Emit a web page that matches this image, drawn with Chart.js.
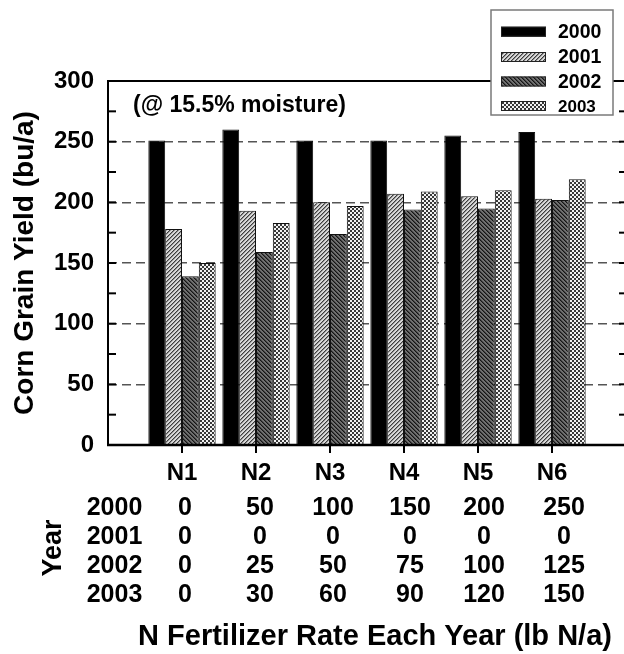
<!DOCTYPE html>
<html><head><meta charset="utf-8">
<script src="https://cdn.jsdelivr.net/npm/chart.js@4/dist/chart.umd.min.js"></script>
<style>html,body{margin:0;padding:0;overflow:hidden;background:#fff;width:624px;height:654px}
#wrap{width:628px;height:654px}</style></head>
<body><div id="wrap"><canvas id="c" width="628" height="654"></canvas></div>
<script>
const categories = ['N1','N2','N3','N4','N5','N6'];
const years = ['2000','2001','2002','2003'];
const yield2000 = [251,260,251,251,255,258];
const yield2001 = [178,193,200,207,205,203];
const yield2002 = [139,159,174,194,195,202];
const yield2003 = [150,183,197,209,210,219];
const rate2000 = [0,50,100,150,200,250];
const rate2001 = [0,0,0,0,0,0];
const rate2002 = [0,25,50,75,100,125];
const rate2003 = [0,30,60,90,120,150];
const yTicks = [0,50,100,150,200,250,300];
const yMinorTicks = [25,75,125,175,225,275];
const annotation = '(@ 15.5% moisture)';
const yTitle = 'Corn Grain Yield (bu/a)';
const xTitle = 'N Fertilizer Rate Each Year (lb N/a)';
const rowTitle = 'Year';

const FONT = "'Liberation Sans', Arial, Helvetica, sans-serif";
const canvas = document.getElementById('c');
const ctx = canvas.getContext('2d');

function makeTile(size, fn){
  const c = document.createElement('canvas'); c.width = c.height = size;
  const g = c.getContext('2d'); fn(g); return ctx.createPattern(c, 'repeat');
}
const fill2001 = makeTile(4, g => {
  g.fillStyle = '#d8d8d8'; g.fillRect(0,0,4,4);
  for (let i=0;i<4;i++){ g.fillStyle='#3c3c3c'; g.fillRect(i,3-i,1,1); g.fillStyle='#909090'; g.fillRect((i+1)%4,3-i,1,1); }
});
const fill2002 = makeTile(4, g => {
  g.fillStyle = '#707070'; g.fillRect(0,0,4,4);
  for (let i=0;i<4;i++){ g.fillStyle='#151515'; g.fillRect(i,i,1,1); g.fillStyle='#404040'; g.fillRect((i+1)%4,i,1,1); }
});
const fill2003 = makeTile(4, g => {
  g.fillStyle = '#f2f2f2'; g.fillRect(0,0,4,4);
  g.fillStyle = '#383838'; g.fillRect(0,0,2,2); g.fillRect(2,2,2,2);
});
const fills = ['#000000', fill2001, fill2002, fill2003];
const series = [yield2000, yield2001, yield2002, yield2003];
const rates = [rate2000, rate2001, rate2002, rate2003];

const datasets = years.map((yr,k) => ({
  label: yr,
  data: series[k].map((v,i) => ({x: i+1, y: v})),
  backgroundColor: fills[k],
  borderColor: '#111',
  borderWidth: 1,
  categoryPercentage: 0.91,
  barPercentage: 1.0
}));

function line(c,x1,y1,x2,y2){ c.beginPath(); c.moveTo(x1,y1); c.lineTo(x2,y2); c.stroke(); }

const deco = {
  id: 'deco',
  afterDatasetsDraw(chart){
    const {ctx: c, chartArea: a, scales: {y}} = chart;
    c.save();
    c.strokeStyle = '#000'; c.lineWidth = 2;
    [...yTicks, ...yMinorTicks].forEach(v => {
      const py = y.getPixelForValue(v);
      line(c, a.left, py, a.left+8, py);
      line(c, a.right, py, a.right-7, py);
    });
    c.strokeRect(a.left, a.top, a.right-a.left, a.bottom-a.top);
    c.lineWidth = 2.6; line(c, a.left-1, a.bottom, a.right+2, a.bottom);
    c.restore();
  },
  afterDraw(chart){
    const {ctx: c, chartArea: a, scales: {x}} = chart;
    c.save();
    // legend
    c.fillStyle = '#fff'; c.fillRect(491, 10, 122, 105);
    c.strokeStyle = '#7a7a7a'; c.lineWidth = 1.5; c.strokeRect(491, 10, 122, 105);
    const rowsY = [31.7, 57, 81.5, 106];
    const lFont = [19.5, 19.5, 19.5, 17];
    chart.data.datasets.forEach((ds,k) => {
      c.fillStyle = ds.backgroundColor; c.fillRect(501, rowsY[k]-5, 45, 10);
      c.strokeStyle = '#222'; c.lineWidth = 1; c.strokeRect(501.5, rowsY[k]-4.5, 44, 9);
      c.fillStyle = '#000'; c.font = 'bold ' + lFont[k] + 'px ' + FONT;
      c.textAlign = 'left'; c.textBaseline = 'middle';
      c.fillText(ds.label, 558, rowsY[k] + 1);
    });
    // annotation
    c.font = 'bold 23px ' + FONT; c.textAlign = 'left'; c.textBaseline = 'middle';
    c.fillText(annotation, 133, 106);
    // table
    c.font = 'bold 25px ' + FONT; c.textAlign = 'center';
    const rowOff = [63.5, 92.5, 121.5, 150];
    const colOff = [3, 4, 3, 6, 6, 12];
    years.forEach((yr,k) => {
      const py = a.bottom + rowOff[k];
      c.fillText(yr, 114.5, py);
      rates[k].forEach((v,i) => c.fillText(String(v), x.getPixelForValue(i+1) + colOff[i], py));
    });
    // row title
    c.save(); c.translate(54, 548); c.rotate(-Math.PI/2);
    c.font = 'bold 27px ' + FONT; c.fillText(rowTitle, 0, 0); c.restore();
    // x title
    c.font = 'bold 29px ' + FONT; c.textAlign = 'center'; c.textBaseline = 'middle';
    c.fillText(xTitle, 375, 637);
    c.restore();
  }
};

new Chart(ctx, {
  type: 'bar',
  data: { datasets },
  plugins: [deco],
  options: {
    responsive: false, animation: false,
    layout: { padding: { top: 81, right: 2, bottom: 0, left: 0 } },
    plugins: { legend: { display: false }, tooltip: { enabled: false } },
    scales: {
      x: {
        type: 'linear', min: 0, max: 7, offset: false,
        afterBuildTicks: s => { s.ticks = categories.map((c,i) => ({ value: i+1 })); },
        afterFit: s => { s.height = 209; },
        ticks: { callback: v => categories[v-1] ?? '', font: { family: FONT, size: 24, weight: 'bold' }, color: '#000', padding: 6, maxRotation: 0, autoSkip: false },
        grid: { offset: false, drawOnChartArea: false, drawTicks: true, tickLength: 8, color: '#000', lineWidth: 2 },
        border: { display: false }
      },
      y: {
        min: 0, max: 300,
        afterBuildTicks: s => { s.ticks = yTicks.map(v => ({ value: v })); },
        afterFit: s => { s.width = 108; },
        ticks: { font: { family: FONT, size: 24, weight: 'bold' }, color: '#000', padding: 14 },
        grid: { drawTicks: false, lineWidth: 1.5, color: c => (c.tick && (c.tick.value === 0 || c.tick.value === 300)) ? 'rgba(0,0,0,0)' : '#555' },
        border: { display: false, dash: [9, 5] },
        title: { display: true, text: yTitle, font: { family: FONT, size: 28, weight: 'bold' }, color: '#000', padding: { top: 8, bottom: 0 } }
      }
    }
  }
});
</script></body></html>
